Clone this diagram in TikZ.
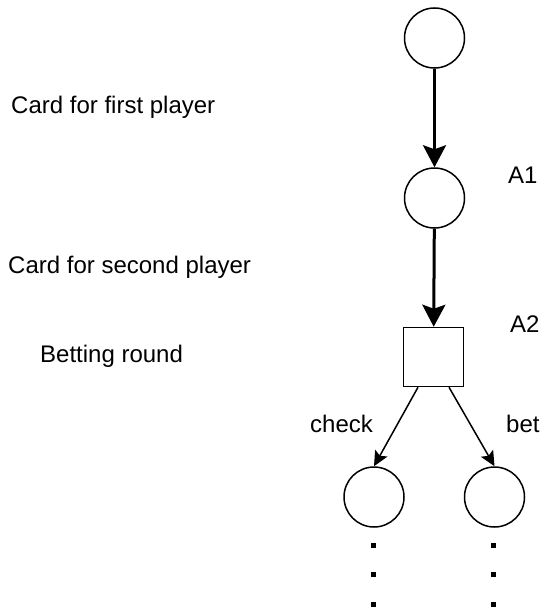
\documentclass[tikz,border=0pt]{standalone}
\usepackage{fontspec}
\setmainfont{Liberation Sans}
\usetikzlibrary{arrows.meta,calc}
\begin{document}
\begin{tikzpicture}[x=1pt,y=-1pt,
  state/.style={circle,draw,line width=1.5pt,minimum size=60pt,inner sep=0pt},
  move/.style={rectangle,draw,line width=1.5pt,minimum width=60pt,minimum height=59pt,inner sep=0pt},
  lbl/.style={anchor=base west,inner sep=0pt,font=\fontsize{24pt}{28pt}\selectfont},
  deal/.style={line width=3pt,-{Stealth[length=22pt,width=23pt,inset=4pt]}},
  act/.style={line width=1.5pt,-{Stealth[length=15pt,width=14pt,inset=3pt]}},
  dotbox/.style={fill=black}]
\useasboundingbox (0,0) rectangle (542,610);

% game tree
\node[state] (root) at (434.5,38) {};
\node[state] (a1)   at (434.5,198) {};
\node[move]  (a2)   at (433.5,357) {};
\node[state] (chk)  at (374,497) {};
\node[state] (bt)   at (494.5,497) {};

\draw[deal] (root) -- (a1);
\draw[deal] (a1) -- (a2);
\draw[act] ($(a2.south)+(-15.5,0)$) -- (chk.north);
\draw[act] ($(a2.south)+(15.5,0)$) -- (bt.north);

% continuation dots below the leaves
\foreach \x in {373.5,493.5}
  \foreach \y in {545,574,604}
    \fill[dotbox] (\x-2.5,\y-2.5) rectangle (\x+2.5,\y+2.5);

% labels
\node[lbl] (t1) at (11,113) {Card for first player};
\node[lbl] (t2) at (8,273) {Card for second player};
\node[lbl] (t3) at (40,362) {Betting round};
\node[lbl] (l1) at (508,183) {A1};
\node[lbl] (l2) at (510,332) {A2};
\node[lbl] (lc) at (310,432) {check};
\node[lbl] (lb) at (506,432) {bet};
\end{tikzpicture}
\end{document}
